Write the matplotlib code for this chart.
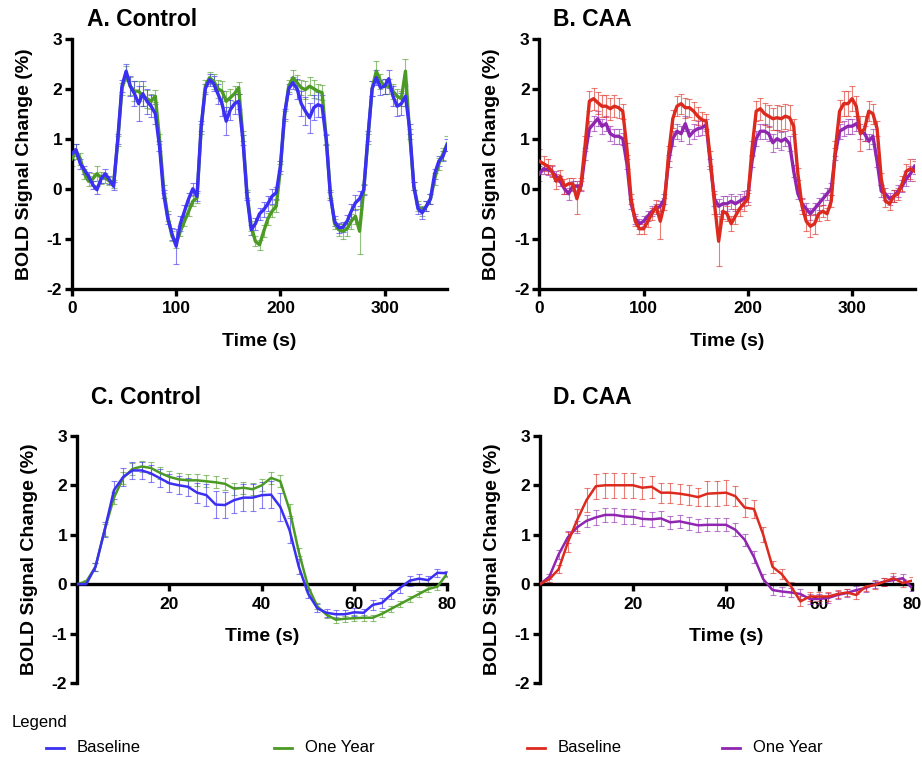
import matplotlib
matplotlib.use("Agg")
import matplotlib.pyplot as plt
import numpy as np
from matplotlib.lines import Line2D

plt.rcParams["font.family"] = ["Liberation Sans", "DejaVu Sans"]
plt.rcParams["font.weight"] = "bold"
plt.rcParams["axes.unicode_minus"] = False

# time axes (s)
t_run = np.arange(0, 361, 4)
t_avg = np.arange(0, 81, 2)

# ---- A. Control, full run ----
ctl_base = [0.70, 0.78, 0.50, 0.38, 0.25, 0.08, -0.02, 0.20, 0.30, 0.18,
            0.05, 1.00, 2.05, 2.35, 2.05, 1.90, 1.70, 1.90, 1.75, 1.65,
            1.50, 0.85, -0.10, -0.60, -0.90, -1.15, -0.70, -0.45, -0.20, 0.00,
            -0.15, 1.25, 2.00, 2.18, 2.10, 1.90, 1.70, 1.35, 1.58, 1.70,
            1.75, 0.98, -0.15, -0.82, -0.70, -0.50, -0.42, -0.30, -0.15, -0.08,
            0.45, 1.50, 2.00, 2.12, 2.00, 1.70, 1.55, 1.42, 1.62, 1.68,
            1.65, 0.98, -0.15, -0.65, -0.78, -0.77, -0.65, -0.45, -0.28, -0.20,
            -0.02, 1.05, 2.00, 2.22, 2.02, 2.05, 2.20, 1.85, 1.65, 1.70,
            1.85, 1.20, 0.05, -0.40, -0.48, -0.35, -0.20, 0.30, 0.55, 0.65,
            0.88]
ctl_base_err = [0.12, 0.12, 0.10, 0.08, 0.08, 0.08, 0.08, 0.08, 0.10, 0.08,
                0.08, 0.10, 0.12, 0.15, 0.20, 0.25, 0.35, 0.25, 0.25, 0.22,
                0.20, 0.10, 0.08, 0.10, 0.12, 0.35, 0.15, 0.12, 0.12, 0.12,
                0.10, 0.10, 0.10, 0.12, 0.15, 0.20, 0.25, 0.28, 0.20, 0.20,
                0.15, 0.10, 0.08, 0.10, 0.12, 0.12, 0.15, 0.15, 0.15, 0.12,
                0.10, 0.10, 0.10, 0.12, 0.20, 0.25, 0.28, 0.30, 0.25, 0.25,
                0.22, 0.10, 0.08, 0.10, 0.10, 0.10, 0.12, 0.15, 0.15, 0.15,
                0.10, 0.10, 0.15, 0.15, 0.15, 0.15, 0.18, 0.20, 0.20, 0.22,
                0.20, 0.10, 0.08, 0.10, 0.12, 0.10, 0.10, 0.10, 0.10, 0.10,
                0.12]
ctl_year = [0.60, 0.75, 0.60, 0.30, 0.15, 0.20, 0.30, 0.22, 0.22, 0.15,
            0.10, 0.95, 2.00, 2.30, 2.05, 1.95, 1.95, 1.85, 1.80, 1.75,
            1.85, 1.00, 0.00, -0.55, -0.95, -1.08, -0.85, -0.65, -0.45, -0.25,
            -0.18, 1.20, 2.05, 2.22, 2.15, 2.00, 1.95, 1.75, 1.82, 1.90,
            2.02, 1.05, -0.10, -0.75, -1.05, -1.12, -0.85, -0.60, -0.45, -0.35,
            0.40, 1.45, 2.05, 2.22, 2.12, 2.02, 1.98, 2.05, 2.00, 1.95,
            1.92, 1.00, -0.10, -0.70, -0.82, -0.85, -0.80, -0.65, -0.55, -0.85,
            0.00, 1.00, 2.00, 2.35, 2.15, 2.05, 2.05, 1.95, 1.85, 1.80,
            2.35, 1.10, 0.05, -0.35, -0.45, -0.35, -0.20, 0.20, 0.50, 0.70,
            0.90]
ctl_year_err = [0.15, 0.15, 0.12, 0.10, 0.10, 0.12, 0.15, 0.12, 0.10, 0.08,
                0.08, 0.10, 0.12, 0.15, 0.18, 0.20, 0.20, 0.20, 0.18, 0.15,
                0.12, 0.10, 0.08, 0.10, 0.10, 0.10, 0.10, 0.10, 0.10, 0.10,
                0.10, 0.10, 0.12, 0.12, 0.15, 0.18, 0.20, 0.20, 0.18, 0.15,
                0.12, 0.10, 0.08, 0.10, 0.10, 0.10, 0.12, 0.12, 0.12, 0.12,
                0.10, 0.10, 0.12, 0.15, 0.15, 0.15, 0.18, 0.18, 0.18, 0.15,
                0.15, 0.10, 0.08, 0.10, 0.12, 0.15, 0.15, 0.15, 0.15, 0.45,
                0.10, 0.10, 0.15, 0.20, 0.15, 0.15, 0.15, 0.15, 0.15, 0.15,
                0.25, 0.10, 0.08, 0.10, 0.10, 0.10, 0.10, 0.12, 0.12, 0.12,
                0.15]

# ---- B. CAA, full run ----
caa_base = [0.55, 0.50, 0.45, 0.35, 0.15, 0.25, 0.05, 0.10, 0.10, -0.20,
            0.10, 0.90, 1.75, 1.80, 1.72, 1.65, 1.65, 1.60, 1.65, 1.62,
            1.55, 0.80, -0.20, -0.65, -0.80, -0.80, -0.65, -0.50, -0.35, -0.65,
            -0.30, 0.70, 1.40, 1.65, 1.70, 1.62, 1.62, 1.55, 1.45, 1.38,
            1.35, 0.60, -0.30, -1.05, -0.45, -0.50, -0.70, -0.55, -0.40, -0.30,
            -0.20, 0.80, 1.55, 1.60, 1.50, 1.45, 1.40, 1.42, 1.40, 1.45,
            1.42, 1.25, 0.30, -0.35, -0.65, -0.75, -0.70, -0.50, -0.45, -0.50,
            -0.25, 0.80, 1.55, 1.70, 1.70, 1.80, 1.65, 1.10, 1.20, 1.55,
            1.50, 1.20, 0.20, -0.25, -0.30, -0.15, -0.10, 0.10, 0.35, 0.40,
            0.35]
caa_base_err = [0.25, 0.15, 0.15, 0.12, 0.15, 0.12, 0.15, 0.12, 0.12, 0.30,
                0.12, 0.15, 0.20, 0.22, 0.22, 0.22, 0.22, 0.22, 0.22, 0.20,
                0.15, 0.12, 0.10, 0.10, 0.10, 0.10, 0.12, 0.12, 0.12, 0.35,
                0.12, 0.15, 0.18, 0.20, 0.20, 0.20, 0.18, 0.18, 0.18, 0.15,
                0.15, 0.15, 0.20, 0.50, 0.15, 0.15, 0.15, 0.15, 0.15, 0.15,
                0.12, 0.15, 0.20, 0.22, 0.22, 0.22, 0.22, 0.25, 0.25, 0.25,
                0.25, 0.15, 0.12, 0.15, 0.20, 0.22, 0.20, 0.15, 0.12, 0.12,
                0.12, 0.15, 0.22, 0.25, 0.25, 0.25, 0.20, 0.35, 0.25, 0.20,
                0.20, 0.15, 0.12, 0.12, 0.12, 0.12, 0.12, 0.15, 0.15, 0.20,
                0.20]
caa_year = [0.30, 0.40, 0.38, 0.35, 0.25, 0.15, 0.00, -0.10, 0.05, 0.05,
            0.05, 0.70, 1.20, 1.30, 1.40, 1.25, 1.30, 1.10, 1.05, 1.05,
            1.00, 0.50, -0.30, -0.60, -0.70, -0.65, -0.55, -0.45, -0.40, -0.35,
            -0.20, 0.55, 1.00, 1.15, 1.10, 1.30, 1.05, 1.15, 1.20, 1.22,
            1.28, 0.50, -0.20, -0.35, -0.30, -0.30, -0.25, -0.30, -0.25, -0.20,
            -0.15, 0.55, 1.00, 1.15, 1.15, 1.10, 0.92, 1.00, 0.95, 1.00,
            0.90, 0.35, -0.10, -0.30, -0.40, -0.50, -0.40, -0.30, -0.20, -0.10,
            0.00, 0.70, 1.15, 1.20, 1.25, 1.25, 1.30, 1.15, 1.10, 0.95,
            1.05, 0.55, -0.05, -0.10, -0.20, -0.15, -0.05, 0.05, 0.20, 0.30,
            0.45]
caa_year_err = [0.15, 0.10, 0.10, 0.10, 0.10, 0.10, 0.10, 0.12, 0.10, 0.10,
                0.10, 0.12, 0.15, 0.15, 0.15, 0.15, 0.15, 0.15, 0.15, 0.15,
                0.12, 0.10, 0.10, 0.10, 0.10, 0.10, 0.10, 0.10, 0.10, 0.10,
                0.10, 0.12, 0.15, 0.15, 0.15, 0.15, 0.15, 0.15, 0.15, 0.15,
                0.12, 0.10, 0.15, 0.15, 0.15, 0.15, 0.15, 0.15, 0.15, 0.15,
                0.12, 0.12, 0.15, 0.15, 0.15, 0.15, 0.18, 0.18, 0.18, 0.15,
                0.15, 0.12, 0.10, 0.12, 0.12, 0.12, 0.12, 0.12, 0.12, 0.12,
                0.12, 0.12, 0.15, 0.15, 0.15, 0.15, 0.15, 0.15, 0.15, 0.15,
                0.15, 0.12, 0.12, 0.12, 0.12, 0.12, 0.12, 0.12, 0.15, 0.15,
                0.15]

# ---- C. Control, block average ----
ctl_avg_base = [0.00, 0.00, 0.35, 1.10, 1.90, 2.17, 2.30, 2.30, 2.24, 2.14,
                2.04, 2.00, 1.97, 1.85, 1.80, 1.61, 1.60, 1.70, 1.75, 1.75,
                1.80, 1.81, 1.56, 1.09, 0.35, -0.19, -0.49, -0.58, -0.61, -0.61,
                -0.57, -0.58, -0.42, -0.38, -0.21, -0.07, 0.07, 0.11, 0.08, 0.23,
                0.22]
ctl_avg_base_err = [0.00, 0.02, 0.08, 0.15, 0.18, 0.18, 0.18, 0.18, 0.18, 0.18,
                    0.18, 0.18, 0.18, 0.20, 0.22, 0.27, 0.27, 0.27, 0.27, 0.27,
                    0.27, 0.27, 0.28, 0.25, 0.15, 0.10, 0.08, 0.08, 0.08, 0.08,
                    0.08, 0.08, 0.10, 0.10, 0.10, 0.10, 0.10, 0.10, 0.08, 0.08,
                    0.05]
ctl_avg_year = [0.00, 0.05, 0.35, 1.10, 1.75, 2.15, 2.33, 2.38, 2.35, 2.25,
                2.17, 2.12, 2.10, 2.10, 2.08, 2.06, 2.03, 1.93, 1.95, 1.92,
                2.00, 2.15, 2.08, 1.50, 0.65, -0.05, -0.45, -0.62, -0.72, -0.70,
                -0.69, -0.68, -0.68, -0.60, -0.50, -0.40, -0.30, -0.20, -0.10, -0.05,
                0.20]
ctl_avg_year_err = [0.00, 0.03, 0.08, 0.12, 0.12, 0.12, 0.12, 0.12, 0.12, 0.12,
                    0.12, 0.12, 0.12, 0.12, 0.12, 0.12, 0.12, 0.12, 0.12, 0.12,
                    0.12, 0.12, 0.12, 0.12, 0.08, 0.06, 0.06, 0.06, 0.06, 0.06,
                    0.06, 0.06, 0.06, 0.06, 0.06, 0.06, 0.06, 0.06, 0.06, 0.06,
                    0.05]

# ---- D. CAA, block average ----
caa_avg_base = [0.00, 0.10, 0.30, 0.85, 1.30, 1.70, 1.98, 2.00, 2.00, 2.00,
                2.00, 1.95, 1.97, 1.85, 1.85, 1.83, 1.80, 1.76, 1.83, 1.84,
                1.85, 1.78, 1.55, 1.52, 1.00, 0.35, 0.20, -0.05, -0.35, -0.25,
                -0.25, -0.25, -0.20, -0.17, -0.22, -0.05, -0.02, 0.05, 0.12, 0.02,
                0.07]
caa_avg_base_err = [0.00, 0.05, 0.08, 0.20, 0.22, 0.25, 0.25, 0.25, 0.25, 0.25,
                    0.25, 0.22, 0.22, 0.20, 0.20, 0.20, 0.20, 0.18, 0.25, 0.25,
                    0.25, 0.20, 0.20, 0.18, 0.15, 0.12, 0.10, 0.10, 0.10, 0.10,
                    0.10, 0.10, 0.08, 0.08, 0.08, 0.08, 0.08, 0.08, 0.10, 0.08,
                    0.08]
caa_avg_year = [0.00, 0.15, 0.60, 0.95, 1.15, 1.28, 1.35, 1.40, 1.40, 1.37,
                1.36, 1.32, 1.31, 1.33, 1.25, 1.27, 1.23, 1.19, 1.20, 1.20,
                1.20, 1.10, 0.90, 0.55, 0.10, -0.12, -0.15, -0.17, -0.20, -0.30,
                -0.30, -0.28, -0.22, -0.18, -0.12, -0.08, 0.00, 0.05, 0.08, 0.12,
                -0.08]
caa_avg_year_err = [0.00, 0.05, 0.10, 0.12, 0.12, 0.12, 0.15, 0.15, 0.15, 0.15,
                    0.15, 0.15, 0.15, 0.15, 0.13, 0.13, 0.13, 0.13, 0.13, 0.13,
                    0.13, 0.13, 0.12, 0.12, 0.10, 0.10, 0.10, 0.10, 0.10, 0.10,
                    0.10, 0.10, 0.08, 0.08, 0.08, 0.08, 0.08, 0.08, 0.08, 0.08,
                    0.05]

BLUE = "#3a2ff2"
GREEN = "#4a9a24"
RED = "#dc2a1e"
PURPLE = "#9025b0"


def draw_pair(ax, t, first, first_err, c1, second, second_err, c2, lw):
    # second series drawn first so the first one sits on top
    for y, e, c in [(second, second_err, c2), (first, first_err, c1)]:
        ax.errorbar(t, y, yerr=e, fmt="none", ecolor=c, alpha=0.6,
                    elinewidth=0.8, capsize=2.2, capthick=0.8, zorder=2)
    for y, c in [(second, c2), (first, c1)]:
        ax.plot(t, y, color=c, lw=lw, zorder=3, solid_joinstyle="round")


def style(ax, xmax, xticks, zero_axis):
    ax.set_xlim(0, xmax)
    ax.set_ylim(-2, 3)
    ax.set_yticks([-2, -1, 0, 1, 2, 3])
    ax.set_xticks(xticks)
    ax.spines["top"].set_visible(False)
    ax.spines["right"].set_visible(False)
    for s in ["left", "bottom"]:
        ax.spines[s].set_linewidth(2.4)
    if zero_axis:
        ax.spines["bottom"].set_position(("data", 0))
    ax.tick_params(axis="both", width=2.4, length=5, labelsize=12.5)
    ax.tick_params(axis="y", pad=2)
    ax.tick_params(axis="x", pad=4)
    for lab in ax.get_xticklabels() + ax.get_yticklabels():
        lab.set_fontweight("bold")
    ax.set_ylabel("BOLD Signal Change (%)", fontsize=14, fontweight="bold",
                  labelpad=10)
    ax.set_xlabel("Time (s)", fontsize=14, fontweight="bold", labelpad=12)


fig = plt.figure(figsize=(9.22, 7.58), dpi=100)

axA = fig.add_axes([0.078, 0.619, 0.407, 0.330])
axB = fig.add_axes([0.585, 0.619, 0.407, 0.330])
axC = fig.add_axes([0.0835, 0.099, 0.401, 0.326])
axD = fig.add_axes([0.5857, 0.099, 0.4035, 0.326])

draw_pair(axA, t_run, ctl_base, ctl_base_err, BLUE, ctl_year, ctl_year_err, GREEN, 2.4)
draw_pair(axB, t_run, caa_base, caa_base_err, RED, caa_year, caa_year_err, PURPLE, 2.4)
draw_pair(axC, t_avg, ctl_avg_base, ctl_avg_base_err, BLUE, ctl_avg_year, ctl_avg_year_err, GREEN, 1.8)
draw_pair(axD, t_avg, caa_avg_base, caa_avg_base_err, RED, caa_avg_year, caa_avg_year_err, PURPLE, 1.8)

for ax in [axA, axB]:
    style(ax, 360, [0, 100, 200, 300], False)
for ax in [axC, axD]:
    style(ax, 80, [20, 40, 60, 80], True)

title_kw = dict(fontsize=16.5, fontweight="bold", va="center", ha="left")
fig.text(87 / 922, 1 - 19 / 758, "A. Control", **title_kw)
fig.text(553 / 922, 1 - 19 / 758, "B. CAA", **title_kw)
fig.text(91 / 922, 1 - 397 / 758, "C. Control", **title_kw)
fig.text(553 / 922, 1 - 397 / 758, "D. CAA", **title_kw)

# legend row at the bottom
leg_font = ["Liberation Sans Narrow", "Liberation Sans", "DejaVu Sans"]
fig.text(12 / 922, 1 - 722 / 758, "Legend", family=leg_font, fontsize=12,
         fontweight="normal", va="center", ha="left")
entries = [(46, BLUE, "Baseline"), (274, GREEN, "One Year"),
           (527, RED, "Baseline"), (722, PURPLE, "One Year")]
ly = 1 - 748 / 758
for x0, c, lab in entries:
    fig.add_artist(Line2D([x0 / 922, (x0 + 18) / 922], [ly, ly],
                          transform=fig.transFigure, color=c, lw=2))
    fig.text((x0 + 31) / 922, ly, lab, family=leg_font, fontsize=12,
             fontweight="normal", va="center", ha="left")

fig.savefig("out.png", dpi=100)
